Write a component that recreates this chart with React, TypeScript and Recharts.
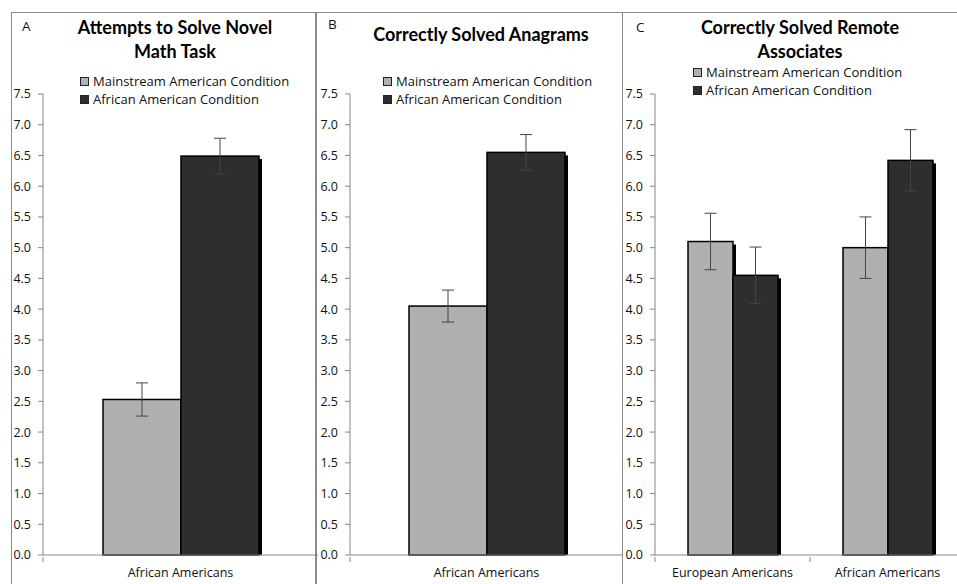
import { BarChart, Bar, XAxis, YAxis, ErrorBar } from "recharts";

const yTicks = [0, 0.5, 1, 1.5, 2, 2.5, 3, 3.5, 4, 4.5, 5, 5.5, 6, 6.5, 7, 7.5];
const seriesNames = ["Mainstream American Condition", "African American Condition"];

// panel A
const mathGroups = ["African Americans"];
const mathMainstream = [2.53];
const mathMainstreamErr = [0.27];
const mathAfrican = [6.49];
const mathAfricanErr = [0.29];

// panel B
const anagramGroups = ["African Americans"];
const anagramMainstream = [4.05];
const anagramMainstreamErr = [0.26];
const anagramAfrican = [6.55];
const anagramAfricanErr = [0.29];

// panel C
const remoteGroups = ["European Americans", "African Americans"];
const remoteMainstream = [5.1, 5.0];
const remoteMainstreamErr = [0.46, 0.5];
const remoteAfrican = [4.55, 6.42];
const remoteAfricanErr = [0.46, 0.5];

const LIGHT = "#b0b0b0";
const DARK = "#2e2e2e";
const AXIS = "#868686";
const FONT = "'Open Sans', sans-serif";

function build(groups: string[], a: number[], ae: number[], b: number[], be: number[]) {
  return groups.map((g, i) => ({ group: g, main: a[i], mainErr: ae[i], afr: b[i], afrErr: be[i] }));
}

const ShadowBar = (props: any) => {
  const { x, y, width, height, fill } = props;
  if (!height) return null;
  return (
    <g>
      <rect x={x + 3} y={y + 3} width={width} height={Math.max(0, height - 3)} fill="#000" />
      <rect x={x} y={y} width={width} height={height} fill={fill} stroke="#000" strokeWidth={1.5} />
    </g>
  );
};

const CatTick = (props: any) => {
  const { x, y, payload } = props;
  const off = payload.offset || 0;
  return (
    <g>
      <line x1={x - off} x2={x - off} y1={y - 6} y2={y - 1} stroke={AXIS} />
      <text x={x} y={y + 14} textAnchor="middle" fontSize={12.5} fontFamily={FONT} fill="#111">
        {payload.value}
      </text>
    </g>
  );
};

function Panel(props: {
  left: number;
  width: number;
  data: any[];
  barSize: number;
}) {
  return (
    <div style={{ position: "absolute", left: props.left, top: 0 }}>
      <BarChart
        width={props.width}
        height={600}
        data={props.data}
        margin={{ top: 94, right: 0, bottom: 0, left: 0 }}
        barGap={0}
        barSize={props.barSize}
      >
        <XAxis
          dataKey="group"
          height={45}
          stroke={AXIS}
          tickLine={false}
          tick={<CatTick />}
          interval={0}
        />
        <YAxis
          width={31}
          domain={[0, 7.5]}
          ticks={yTicks}
          interval={0}
          stroke={AXIS}
          tickSize={5}
          tickMargin={7}
          tickFormatter={(v: number) => v.toFixed(1)}
          tick={{ fontSize: 12.5, fontFamily: FONT, fill: "#111" }}
        />
        <Bar dataKey="main" fill={LIGHT} shape={<ShadowBar />} isAnimationActive={false}>
          <ErrorBar dataKey="mainErr" width={6} stroke="#444" strokeWidth={1} />
        </Bar>
        <Bar dataKey="afr" fill={DARK} shape={<ShadowBar />} isAnimationActive={false}>
          <ErrorBar dataKey="afrErr" width={6} stroke="#444" strokeWidth={1} />
        </Bar>
      </BarChart>
    </div>
  );
}

function Legend(props: { left: number; top: number }) {
  const row = (fill: string, label: string, top: number) => (
    <div style={{ position: "absolute", left: 0, top, display: "flex", alignItems: "center", whiteSpace: "nowrap" }}>
      <span
        style={{
          display: "inline-block",
          width: 7,
          height: 7,
          background: fill,
          border: "1px solid #222",
          marginRight: 4,
        }}
      />
      <span style={{ fontSize: 13, fontFamily: FONT, color: "#111" }}>{label}</span>
    </div>
  );
  return (
    <div style={{ position: "absolute", left: props.left, top: props.top }}>
      {row(LIGHT, seriesNames[0], 0)}
      {row(DARK, seriesNames[1], 18)}
    </div>
  );
}

const titleStyle: any = {
  position: "absolute",
  fontFamily: "Lato, sans-serif",
  fontWeight: 700,
  fontSize: 18,
  lineHeight: "24px",
  textAlign: "center",
  color: "#000",
};

const letterStyle: any = {
  position: "absolute",
  fontFamily: FONT,
  fontSize: 13.5,
  color: "#111",
};

export default function App() {
  const panelBorder = "1px solid #8a8a8a";
  return (
    <div style={{ position: "relative", width: 957, height: 584, overflow: "hidden", background: "#fff" }}>
      <style>{`body{margin:0}`}</style>
      <div style={{ position: "absolute", left: 11, top: 12, width: 305, height: 600, border: panelBorder, boxSizing: "border-box" }} />
      <div style={{ position: "absolute", left: 316, top: 12, width: 307, height: 600, border: panelBorder, boxSizing: "border-box" }} />
      <div style={{ position: "absolute", left: 622, top: 12, width: 400, height: 600, border: panelBorder, boxSizing: "border-box" }} />

      <Panel left={12} width={306} data={build(mathGroups, mathMainstream, mathMainstreamErr, mathAfrican, mathAfricanErr)} barSize={78} />
      <Panel left={319} width={304} data={build(anagramGroups, anagramMainstream, anagramMainstreamErr, anagramAfrican, anagramAfricanErr)} barSize={78} />
      <Panel left={624} width={341} data={build(remoteGroups, remoteMainstream, remoteMainstreamErr, remoteAfrican, remoteAfricanErr)} barSize={45} />

      <div style={{ ...letterStyle, left: 22, top: 17 }}>A</div>
      <div style={{ ...letterStyle, left: 328, top: 15 }}>B</div>
      <div style={{ ...letterStyle, left: 636, top: 18 }}>C</div>

      <div style={{ ...titleStyle, left: 45, width: 260, top: 15 }}>
        Attempts to Solve Novel
        <br />
        Math Task
      </div>
      <div style={{ ...titleStyle, left: 350, width: 262, top: 22 }}>Correctly Solved Anagrams</div>
      <div style={{ ...titleStyle, left: 670, width: 260, top: 15 }}>
        Correctly Solved Remote
        <br />
        Associates
      </div>

      <Legend left={80} top={72} />
      <Legend left={383} top={72} />
      <Legend left={693} top={63} />
    </div>
  );
}
